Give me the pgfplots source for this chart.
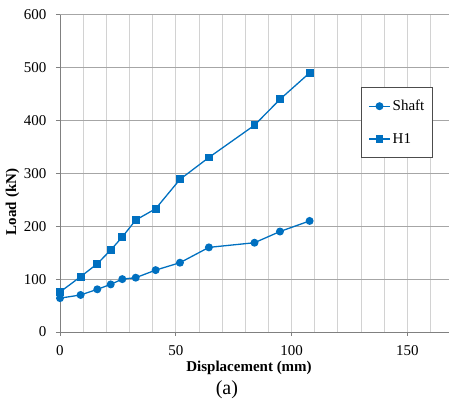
\documentclass[border=0pt]{standalone}
\usepackage{pgfplots}
\pgfplotsset{compat=1.18}
\usepackage{fontspec}
\setmainfont{Liberation Serif}
\definecolor{ser}{RGB}{0,112,192}
\definecolor{hgrid}{RGB}{166,166,166}
\definecolor{vgrid}{RGB}{210,210,210}
\definecolor{axcol}{RGB}{128,128,128}
\begin{document}
\begin{tikzpicture}
\begin{axis}[
  scale only axis,
  width=389pt, height=317.3pt,
  xmin=0, xmax=168, ymin=0, ymax=600,
  axis x line=bottom, axis y line=left,
  axis line style={draw=axcol, line width=0.8pt, -},
  xtick={0,50,100,150}, minor xtick={10,20,30,40,60,70,80,90,110,120,130,140,160},
  ytick={0,100,200,300,400,500,600},
  xmajorgrids, xminorgrids, ymajorgrids,
  major x grid style={draw=vgrid, line width=0.8pt},
  minor x grid style={draw=vgrid, line width=0.8pt},
  major y grid style={draw=hgrid, line width=0.8pt},
  tick align=outside, major tick length=4pt, minor tick length=0pt,
  tick style={draw=axcol, line width=0.8pt},
  /pgf/number format/assume math mode=true,
  tick label style={font=\rmfamily\fontsize{15}{18}\selectfont},
  yticklabel style={xshift=-6pt},
  xticklabel style={yshift=-6pt},
  xlabel={\textbf{Displacement (mm)}},
  ylabel={\textbf{Load (kN)}},
  label style={font=\rmfamily\fontsize{15}{18}\selectfont},
  xlabel style={at={(axis description cs:0.486,-0.1135)}, anchor=center},
  ylabel style={at={(axis description cs:-0.122,0.41)}, anchor=center, rotate=0},
  clip=false,
  legend style={at={(axis cs:130.2,463.7)}, anchor=north west, draw=black!70, fill=white,
    line width=0.8pt, font=\rmfamily\fontsize{15}{18}\selectfont, inner xsep=6.5pt, inner ysep=11pt,
    row sep=17pt},
  legend cell align=left,
  legend image code/.code={\draw[mark repeat=2, mark phase=2] plot coordinates {(0pt,0pt) (10.5pt,0pt) (21pt,0pt)};},
]
\addplot[color=ser, line width=1.3pt, mark=*, mark size=3.3pt, mark options={solid, fill=ser}] coordinates {
(0,64) (8.9,70) (16.1,80.7) (21.9,90) (26.9,100) (32.7,102.7) (41.3,117) (51.8,131) (64.3,160) (84.0,168.8) (95,190) (107.8,210)
};
\addlegendentry{Shaft}
\addplot[color=ser, line width=1.3pt, mark=square*, mark size=3.3pt, mark options={solid, fill=ser}] coordinates {
(0,75.6) (8.9,104.6) (16.1,129) (21.9,155) (26.9,179.6) (32.7,211.7) (41.3,233) (51.8,288.6) (64.3,330) (84.0,391) (95,440) (107.8,490)
};
\addlegendentry{H1}
\node[font=\rmfamily\fontsize{20}{24}\selectfont] at (axis description cs:0.429,-0.183) {(a)};
\end{axis}
\pgfresetboundingbox
\path[use as bounding box] ([shift={(-60pt,-72pt)}]current axis.south west) rectangle ([shift={(0pt,14.7pt)}]current axis.north east);
\end{tikzpicture}
\end{document}
